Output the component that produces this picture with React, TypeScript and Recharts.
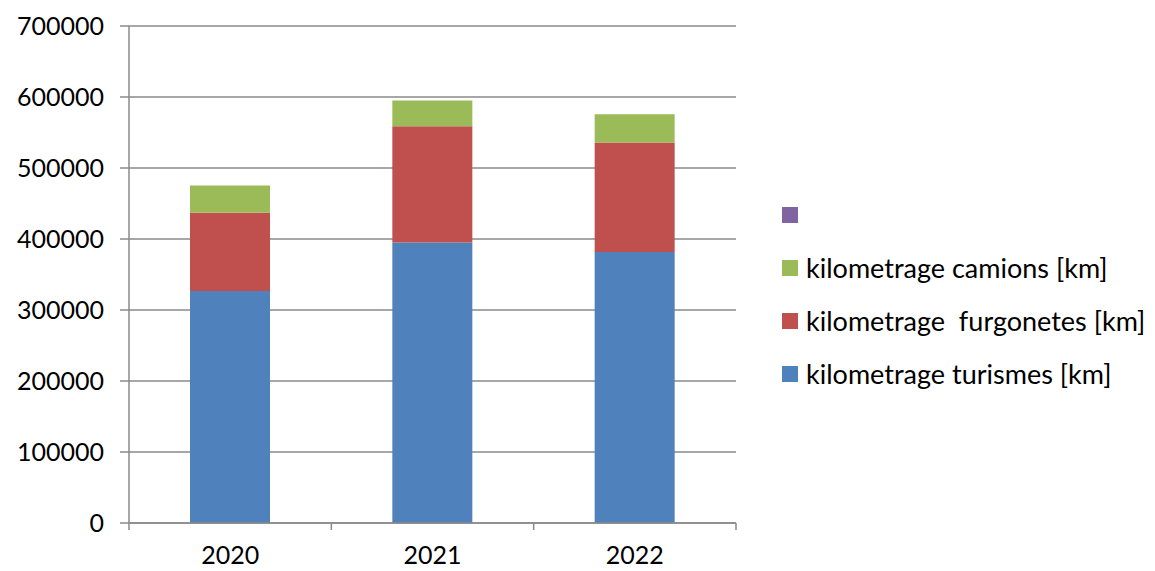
import React from 'react';
import { BarChart, Bar, XAxis, YAxis, CartesianGrid, Legend } from 'recharts';

const years = ['2020', '2021', '2022'];
const turismes = [326700, 395200, 381600];
const furgonetes = [110300, 163600, 154300];
const camions = [38400, 36100, 39800];
const blank: (number | null)[] = [null, null, null];
const yTicks = [0, 100000, 200000, 300000, 400000, 500000, 600000, 700000];

const seriesKeys = ['turismes', 'furgonetes', 'camions', 'blank'];
const seriesNames: Record<string, string> = {
  turismes: 'kilometrage turismes [km]',
  furgonetes: 'kilometrage  furgonetes [km]',
  camions: 'kilometrage camions [km]',
  blank: '',
};

const data = years.map((year, i) => ({
  year,
  turismes: turismes[i],
  furgonetes: furgonetes[i],
  camions: camions[i],
  blank: blank[i],
}));

const W = 1155;
const H = 571;
const LEFT = 129;
const RIGHT = 736;
const TOP = 26;
const BOTTOM = 523;
const GRID = '#8a8a8a';
const FONT = 'Lato, "Open Sans", sans-serif';

const bandW = (RIGHT - LEFT) / years.length;

const XTick = (props: any) => {
  const { x, y, payload, index } = props;
  const left = x - bandW / 2;
  return (
    <g>
      <line x1={left} y1={y - 8} x2={left} y2={y - 1} stroke={GRID} strokeWidth={1.5} />
      {index === years.length - 1 && (
        <line x1={left + bandW} y1={y - 8} x2={left + bandW} y2={y - 1} stroke={GRID} strokeWidth={1.5} />
      )}
      <text x={x} y={y + 33} textAnchor="middle" fill="#000" fontSize={25} fontFamily={FONT}>
        {payload.value}
      </text>
    </g>
  );
};

// legend drawn in reverse stacking order, like the original
const LegendBox = (props: any) => {
  const items = [...(props.payload || [])].sort(
    (a: any, b: any) => seriesKeys.indexOf(b.dataKey) - seriesKeys.indexOf(a.dataKey)
  );
  return (
    <div style={{ fontFamily: FONT, fontSize: 27, color: '#000' }}>
      {items.map((item: any) => (
        <div key={item.dataKey} style={{ display: 'flex', alignItems: 'center', height: 53 }}>
          <span style={{ width: 16, height: 16, background: item.color, display: 'inline-block', marginRight: 8, flexShrink: 0 }} />
          <span style={{ whiteSpace: 'pre' }}>{item.value}</span>
        </div>
      ))}
    </div>
  );
};

export default function App() {
  return (
    <div style={{ position: 'absolute', left: 0, top: 0, width: W, height: H, background: '#fff' }}>
      <BarChart
        width={W}
        height={H}
        data={data}
        margin={{ top: TOP, right: W - RIGHT, left: 0, bottom: 0 }}
      >
        <CartesianGrid vertical={false} stroke={GRID} strokeWidth={1.5} />
        <XAxis
          dataKey="year"
          height={H - BOTTOM}
          axisLine={{ stroke: GRID, strokeWidth: 1.5 }}
          tickLine={false}
          tick={<XTick />}
          interval={0}
        />
        <YAxis
          width={LEFT}
          domain={[0, 700000]}
          ticks={yTicks}
          interval={0}
          axisLine={{ stroke: GRID, strokeWidth: 1.5 }}
          tickLine={{ stroke: GRID, strokeWidth: 1.5 }}
          tickSize={9}
          tickMargin={16}
          tick={{ fill: '#000', fontSize: 25, fontFamily: FONT }}
        />
        <Legend
          layout="horizontal"
          verticalAlign="middle"
          align="center"
          content={<LegendBox />}
          wrapperStyle={{ left: 782, top: 188, width: 373 }}
        />
        <Bar dataKey="turismes" name={seriesNames.turismes} stackId="a" fill="#4f81bd" barSize={80} isAnimationActive={false} />
        <Bar dataKey="furgonetes" name={seriesNames.furgonetes} stackId="a" fill="#c0504d" barSize={80} isAnimationActive={false} />
        <Bar dataKey="camions" name={seriesNames.camions} stackId="a" fill="#9bbb59" barSize={80} isAnimationActive={false} />
        <Bar dataKey="blank" name={seriesNames.blank} stackId="a" fill="#8064a2" barSize={80} isAnimationActive={false} />
      </BarChart>
    </div>
  );
}
